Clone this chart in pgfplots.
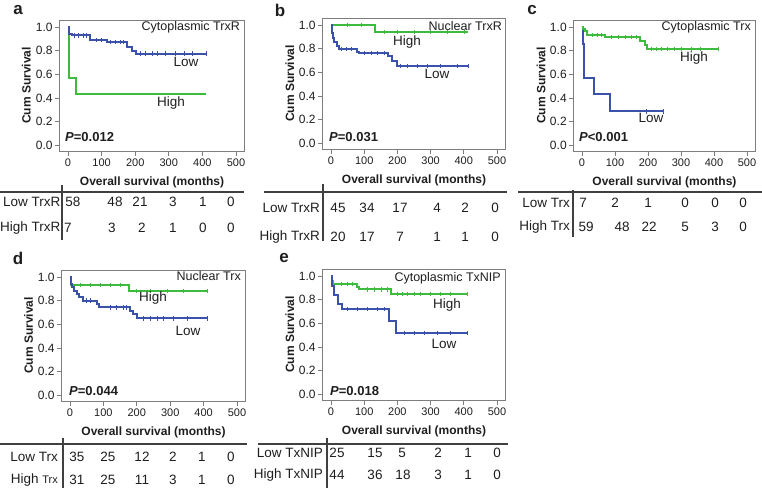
\documentclass[border=0pt]{standalone}
\usepackage{pgfplots}
\pgfplotsset{compat=1.18}
\usepackage{fontspec}
\setmainfont{Liberation Sans}
\definecolor{kmblue}{RGB}{58,82,170}
\definecolor{kmgreen}{RGB}{62,186,62}
\definecolor{axgray}{RGB}{125,125,125}
\definecolor{txt}{RGB}{30,30,30}
\pgfplotsset{
  km/.style={
    scale only axis, width=#1, height=131pt,
    xmin=-25, xmax=525, ymin=-0.05, ymax=1.06,
    xtick={0,100,200,300,400,500}, xticklabels={0,100,200,300,400,500},
    ytick={0,0.2,0.4,0.6,0.8,1.0}, yticklabels={0.0,0.2,0.4,0.6,0.8,1.0},
    tick align=outside, xtick pos=bottom, ytick pos=left,
    major tick length=5pt,
    tick style={axgray, line width=0.7pt},
    axis line style={axgray, line width=0.9pt},
    /pgf/number format/assume math mode=true,
    tick label style={text=txt},
    xticklabel style={yshift=1pt, font=\fontsize{11}{13}\selectfont},
    yticklabel style={xshift=1.5pt, font=\fontsize{12}{14}\selectfont},
    label style={font=\bfseries\fontsize{12}{14}\selectfont, text=txt},
    xlabel={Overall survival (months)}, ylabel={Cum Survival},
    xlabel style={at={(axis description cs:0.5,-0.24)}, anchor=center},
    ylabel style={at={(axis description cs:-0.18,0.5)}, anchor=center},
  },
  kml/.style={const plot mark left, line width=2pt, no marks},
  cen/.style={only marks, mark=|, mark size=2.2pt, mark options={line width=0.6pt}},
}
\begin{document}
\begin{tikzpicture}
\useasboundingbox (0,0) rectangle (762pt,488pt);

% ---------- a ----------
\begin{axis}[km=184.8pt, at={(59.6pt,468pt)}, anchor=north west]
\addplot[kml, kmgreen] coordinates {(0,1)(4,0.571)(23,0.429)(411,0.429)};
\addplot[kml, kmblue] coordinates {(0,1)(4,0.943)(11,0.929)(66,0.892)(116,0.873)(176,0.83)(191,0.80)(201,0.775)(411,0.775)};
\addplot[cen, kmblue] coordinates {(20,0.929)(30,0.929)(45,0.929)(55,0.929)(85,0.892)(100,0.892)(125,0.873)(140,0.873)(155,0.873)(165,0.873)(215,0.775)(230,0.775)(250,0.775)(265,0.775)(290,0.775)(320,0.775)(345,0.775)(370,0.775)(411,0.775)};
\end{axis}

% ---------- b ----------
\begin{axis}[km=182.6pt, at={(322.7pt,470pt)}, anchor=north west]
\addplot[kml, kmgreen] coordinates {(0,1)(133,0.941)(414,0.941)};
\addplot[kml, kmblue] coordinates {(0,1)(2,0.93)(5,0.89)(9,0.855)(19,0.822)(23,0.795)(78,0.776)(83,0.762)(173,0.734)(183,0.697)(198,0.655)(414,0.655)};
\addplot[cen, kmblue] coordinates {(30,0.795)(45,0.795)(60,0.795)(100,0.762)(120,0.762)(140,0.762)(160,0.762)(210,0.655)(230,0.655)(260,0.655)(290,0.655)(330,0.655)(380,0.655)(414,0.655)};
\addplot[cen, kmgreen] coordinates {(50,1)(90,1)(160,0.941)(200,0.941)(250,0.941)(300,0.941)(350,0.941)(400,0.941)};
\end{axis}

% ---------- c ----------
\begin{axis}[km=181.5pt, at={(573.7pt,468pt)}, anchor=north west]
\addplot[kml, kmblue] coordinates {(0,1)(2,0.857)(7,0.571)(37,0.429)(85,0.286)(248,0.286)};
\addplot[kml, kmgreen] coordinates {(0,1)(3,0.983)(8,0.966)(16,0.932)(70,0.915)(175,0.88)(190,0.85)(198,0.815)(412,0.815)};
\addplot[cen, kmgreen] coordinates {(30,0.932)(45,0.932)(60,0.932)(90,0.915)(110,0.915)(130,0.915)(150,0.915)(165,0.915)(210,0.815)(225,0.815)(240,0.815)(260,0.815)(280,0.815)(300,0.815)(330,0.815)(360,0.815)(412,0.815)};
\addplot[cen, kmblue] coordinates {(195,0.286)(248,0.286)};
\end{axis}

% ---------- d ----------
\begin{axis}[km=183.8pt, at={(61.6pt,218pt)}, anchor=north west]
\addplot[kml, kmgreen] coordinates {(0,1)(3,0.935)(177,0.88)(412,0.88)};
\addplot[kml, kmblue] coordinates {(0,1)(2,0.943)(6,0.914)(12,0.886)(20,0.857)(28,0.829)(38,0.80)(80,0.771)(88,0.743)(180,0.714)(190,0.686)(200,0.65)(410,0.65)};
\addplot[cen, kmblue] coordinates {(50,0.8)(60,0.8)(120,0.743)(140,0.743)(160,0.743)(170,0.743)(220,0.65)(240,0.65)(260,0.65)(280,0.65)(310,0.65)(350,0.65)(410,0.65)};
\addplot[cen, kmgreen] coordinates {(30,0.935)(60,0.935)(90,0.935)(120,0.935)(150,0.935)(200,0.88)(240,0.88)(290,0.88)(340,0.88)(412,0.88)};
\end{axis}

% ---------- e ----------
\begin{axis}[km=182.6pt, at={(322.7pt,219pt)}, anchor=north west]
\addplot[kml, kmgreen] coordinates {(0,1)(2,0.955)(5,0.932)(78,0.91)(85,0.887)(182,0.85)(411,0.85)};
\addplot[kml, kmblue] coordinates {(0,1)(3,0.92)(8,0.84)(22,0.76)(33,0.72)(176,0.62)(197,0.52)(412,0.52)};
\addplot[cen, kmblue] coordinates {(50,0.72)(80,0.72)(110,0.72)(140,0.72)(160,0.72)(220,0.52)(250,0.52)(280,0.52)(320,0.52)(360,0.52)(412,0.52)};
\addplot[cen, kmgreen] coordinates {(30,0.932)(50,0.932)(65,0.932)(110,0.887)(130,0.887)(150,0.887)(170,0.887)(200,0.85)(215,0.85)(230,0.85)(250,0.85)(270,0.85)(300,0.85)(330,0.85)(360,0.85)(411,0.85)};
\end{axis}

\begin{scope}[x=1pt, y=-1pt, yshift=488pt, every node/.style={inner sep=0pt, text=txt}]
\def\lab{\bfseries\fontsize{17}{19}\selectfont}
\def\ann{\fontsize{13.5}{15}\selectfont}
\def\ttl{\fontsize{12.5}{14}\selectfont}
\def\pv{\bfseries\fontsize{13}{15}\selectfont}
\def\tb{\fontsize{13.5}{15}\selectfont}
% letters
\node[font=\lab] at (18,10) {a};
\node[font=\lab] at (280,10) {b};
\node[font=\lab] at (532,10) {c};
\node[font=\lab] at (18,258) {d};
\node[font=\lab] at (284,258) {e};
% panel a texts
\node[font=\ttl, anchor=east] at (240,27) {Cytoplasmic TrxR};
\node[font=\ann] at (186,62) {Low};
\node[font=\ann] at (171,103) {High};
\node[font=\pv, anchor=west] at (65,137) {\textit{P}=0.012};
% panel b texts
\node[font=\ttl, anchor=east] at (502,26) {Nuclear TrxR};
\node[font=\ann] at (407,42) {High};
\node[font=\ann] at (437,74) {Low};
\node[font=\pv, anchor=west] at (329,137) {\textit{P}=0.031};
% panel c texts
\node[font=\ttl, anchor=east] at (751,27) {Cytoplasmic Trx};
\node[font=\ann] at (694,58) {High};
\node[font=\ann] at (651,118) {Low};
\node[font=\pv, anchor=west] at (579,137) {\textit{P}<0.001};
% panel d texts
\node[font=\ttl, anchor=east] at (241,276) {Nuclear Trx};
\node[font=\ann] at (153,298) {High};
\node[font=\ann] at (188,331) {Low};
\node[font=\pv, anchor=west] at (69,391) {\textit{P}=0.044};
% panel e texts
\node[font=\ttl, anchor=east] at (501,278) {Cytoplasmic TxNIP};
\node[font=\ann] at (447,305) {High};
\node[font=\ann] at (444,344) {Low};
\node[font=\pv, anchor=west] at (330,391) {\textit{P}=0.018};

% tables lines
\draw[line width=1.1pt, black!75] (0,192) -- (244,192);
\draw[line width=1.1pt, black!75] (62,185) -- (62,240);
\draw[line width=1.1pt, black!75] (264,192) -- (507,192);
\draw[line width=1.1pt, black!75] (323,184) -- (323,241);
\draw[line width=1.1pt, black!75] (518,192) -- (762,192);
\draw[line width=1.1pt, black!75] (573,190) -- (573,237);
\draw[line width=1.1pt, black!75] (0,444) -- (247,444);
\draw[line width=1.1pt, black!75] (63,438) -- (63,488);
\draw[line width=1.1pt, black!75] (258,444) -- (508,444);
\draw[line width=1.1pt, black!75] (327,438) -- (327,488);

% table a
\node[font=\tb, anchor=east] at (60.5,202) {Low TrxR};
\node[font=\tb, anchor=east] at (60.5,228) {High TrxR};
\foreach \x/\v in {73/58,115/48,140/21,173/3,203/1,231/0} \node[font=\tb] at (\x,202) {\v};
\foreach \x/\v in {68/7,112/3,142/2,173/1,203/0,231/0} \node[font=\tb] at (\x,228) {\v};
% table b
\node[font=\tb, anchor=east] at (320,208) {Low TrxR};
\node[font=\tb, anchor=east] at (320,237) {High TrxR};
\foreach \x/\v in {338/45,367/34,400/17,437/4,465/2,495/0} \node[font=\tb] at (\x,208) {\v};
\foreach \x/\v in {338/20,367/17,400/7,437/1,465/1,495/0} \node[font=\tb] at (\x,237) {\v};
% table c
\node[font=\tb, anchor=east] at (570,203) {Low Trx};
\node[font=\tb, anchor=east] at (570,227) {High Trx};
\foreach \x/\v in {583/7,615/2,648/1,685/0,715/0,743/0} \node[font=\tb] at (\x,203) {\v};
\foreach \x/\v in {586/59,622/48,649/22,685/5,715/3,743/0} \node[font=\tb] at (\x,227) {\v};
% table d
\node[font=\tb, anchor=east] at (58,457) {Low Trx};
\node[font=\tb, anchor=east] at (58,480) {High {\fontsize{11}{13}\selectfont Trx}};
\foreach \x/\v in {77/35,108/25,142/12,173/2,202/1,231/0} \node[font=\tb] at (\x,457) {\v};
\foreach \x/\v in {77/31,108/25,142/11,173/3,202/1,231/0} \node[font=\tb] at (\x,480) {\v};
% table e
\node[font=\tb, anchor=east] at (323,453) {Low TxNIP};
\node[font=\tb, anchor=east] at (323,475) {High TxNIP};
\foreach \x/\v in {337/25,375/15,402/5,438/2,468/1,497/0} \node[font=\tb] at (\x,453) {\v};
\foreach \x/\v in {337/44,375/36,403/18,438/3,468/1,497/0} \node[font=\tb] at (\x,475) {\v};
\end{scope}
\end{tikzpicture}
\end{document}
